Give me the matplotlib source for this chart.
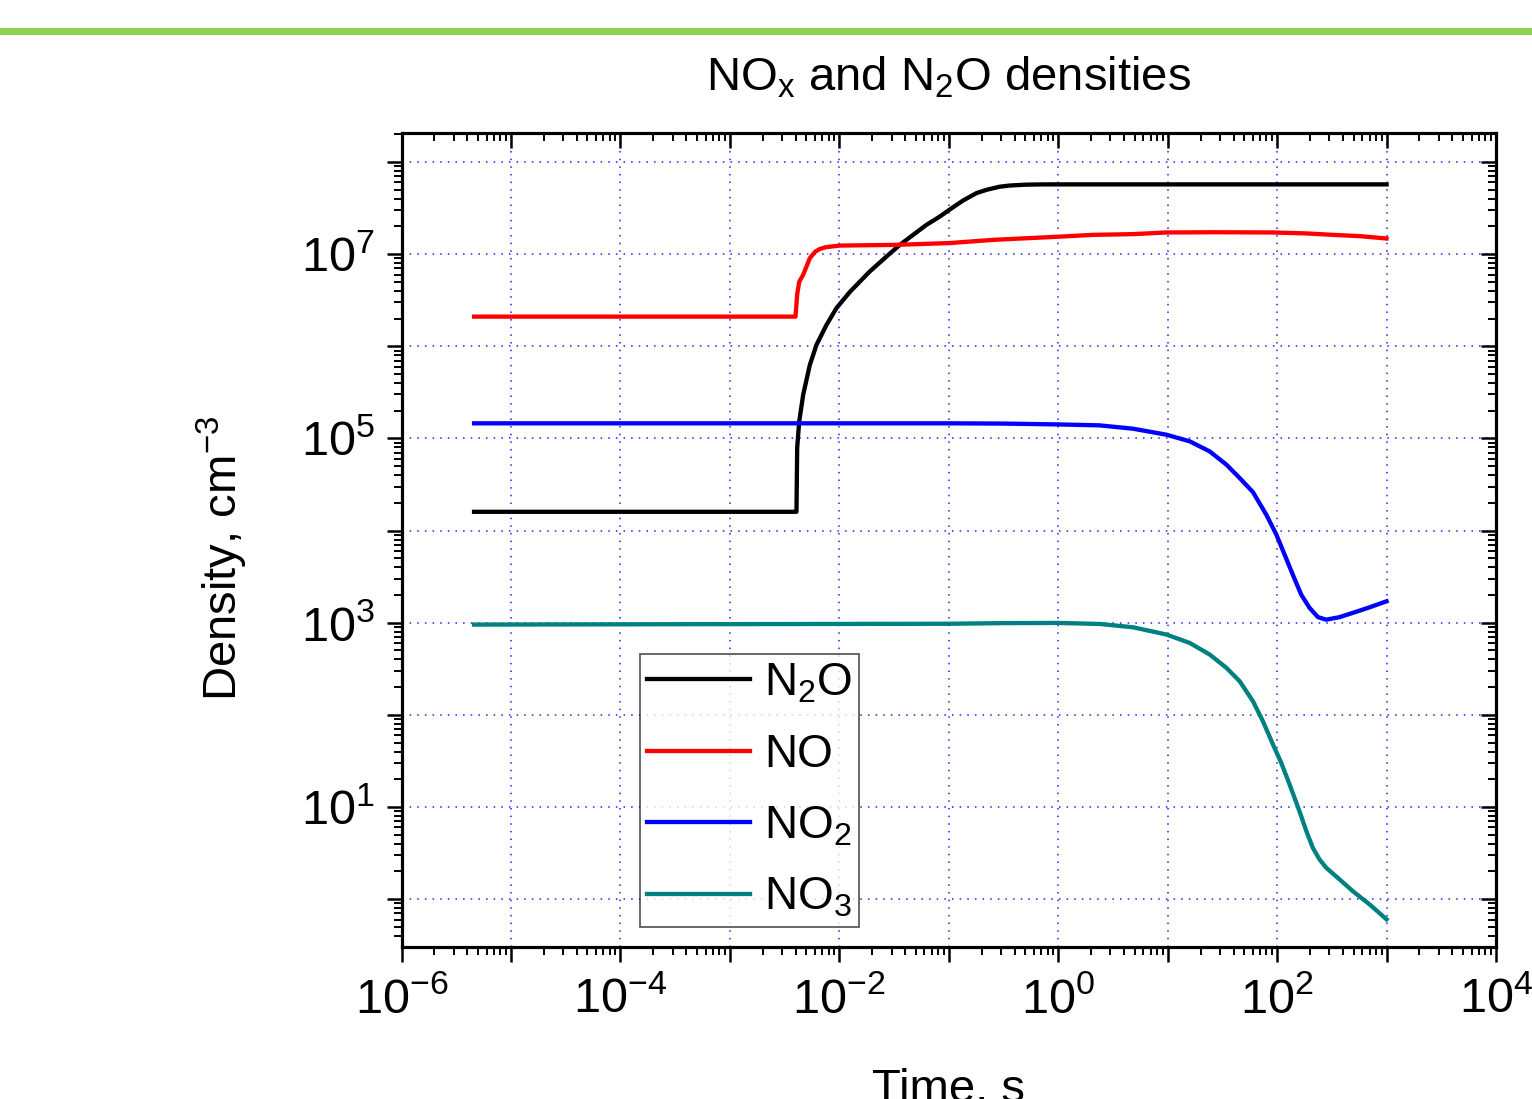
import numpy as np
import matplotlib
matplotlib.use("Agg")
import matplotlib.pyplot as plt
from matplotlib.ticker import LogLocator, FuncFormatter, NullFormatter
from matplotlib.patches import Rectangle

plt.rcParams['font.family'] = ['Liberation Sans', 'DejaVu Sans']
plt.rcParams['mathtext.fontset'] = 'custom'
plt.rcParams['mathtext.rm'] = 'Liberation Sans'
plt.rcParams['mathtext.it'] = 'Liberation Sans'
plt.rcParams['mathtext.default'] = 'regular'

# time (s) and densities (cm^-3) for each species
t_n2o = [4.6e-6, 4.06e-3, 4.12e-3, 4.30e-3, 4.68e-3, 5.38e-3, 6.19e-3, 7.64e-3,
         9.42e-3, 1.25e-2, 1.9e-2, 2.7e-2, 3.57e-2, 4.72e-2, 6.25e-2, 8.28e-2,
         0.102, 0.135, 0.179, 0.221, 0.292, 0.361, 0.51, 0.726, 1.03, 1000]
n_n2o = [1.6e4, 1.6e4, 7.9e4, 1.53e5, 3.0e5, 6.3e5, 1.04e6, 1.71e6,
         2.6e6, 3.9e6, 6.5e6, 9.44e6, 1.26e7, 1.62e7, 2.08e7, 2.56e7,
         3.05e7, 3.82e7, 4.6e7, 4.99e7, 5.4e7, 5.56e7, 5.68e7, 5.72e7, 5.72e7, 5.72e7]

t_no = [4.6e-6, 3.98e-3, 4.12e-3, 4.30e-3, 4.68e-3, 5.38e-3, 6.0e-3, 6.64e-3, 7.5e-3,
        1.01e-2, 3.1e-2, 0.102, 0.254, 1.03, 2.08, 4.82, 9.7, 27.9, 91.6, 185, 324, 566, 1000]
n_no = [2.1e6, 2.1e6, 3.66e6, 5.0e6, 6.0e6, 9.06e6, 1.06e7, 1.14e7, 1.19e7,
        1.24e7, 1.26e7, 1.32e7, 1.43e7, 1.55e7, 1.62e7, 1.65e7, 1.72e7, 1.73e7,
        1.72e7, 1.68e7, 1.62e7, 1.57e7, 1.48e7]

t_no2 = [4.6e-6, 0.1, 0.316, 1.0, 2.39, 4.82, 9.73, 15.9, 24.2, 34.4, 45.5, 60.1,
         79.6, 98.4, 117, 139, 166, 198, 236, 281, 372, 492, 700, 1000]
n_no2 = [1.46e5, 1.46e5, 1.45e5, 1.42e5, 1.387e5, 1.276e5, 1.099e5, 9.31e4, 7.24e4,
         5.2e4, 3.72e4, 2.62e4, 1.49e4, 9.06e3, 5.5e3, 3.33e3, 2.02e3, 1.45e3,
         1.15e3, 1.08e3, 1.15e3, 1.28e3, 1.47e3, 1.71e3]

t_no3 = [4.6e-6, 0.1, 0.3, 1.0, 2.39, 4.82, 9.73, 15.9, 24.2, 34.4, 45.5, 60.1, 74.1,
         91.6, 109, 130, 160, 185, 212, 244, 281, 372, 492, 700, 1000]
n_no3 = [955, 975, 990, 995, 970, 893, 745, 604, 452, 324, 232, 141, 85.5,
         47.8, 30.2, 17.6, 9.02, 5.48, 3.61, 2.70, 2.19, 1.64, 1.22, 0.877, 0.604]

species = ['N$_2$O', 'NO', 'NO$_2$', 'NO$_3$']
colors = ['black', '#ff0000', '#0000ff', '#008080']

fig = plt.figure(figsize=(15.32, 10.99), dpi=100)

# green bar across the top of the page
fig.patches.append(Rectangle((0, 0.9682), 1, 0.0065, transform=fig.transFigure,
                             color='#92d050', lw=0, zorder=0))

ax = fig.add_axes([0.2621, 0.1386, 0.7144, 0.7401])
xlim = (1e-6, 1e4)
ylim = (0.305, 2.05e8)

for t, n, lab, c in zip([t_n2o, t_no, t_no2, t_no3], [n_n2o, n_no, n_no2, n_no3], species, colors):
    ax.plot(t, n, color=c, lw=3.1, label=lab, zorder=3, solid_joinstyle='round')

ax.set_xscale('log')
ax.set_yscale('log')
ax.set_xlim(xlim)
ax.set_ylim(ylim)

def setup_log_axis(axis):
    axis.set_major_locator(LogLocator(base=10, numticks=30))
    axis.set_minor_locator(LogLocator(base=10, subs=np.arange(2, 10), numticks=100))
    axis.set_minor_formatter(NullFormatter())

setup_log_axis(ax.xaxis)
setup_log_axis(ax.yaxis)

def fmt_x(v, pos):
    e = int(round(np.log10(v)))
    return '$10^{%d}$' % e if e % 2 == 0 else ''

def fmt_y(v, pos):
    e = int(round(np.log10(v)))
    return '$10^{%d}$' % e if e % 2 == 1 else ''

ax.xaxis.set_major_formatter(FuncFormatter(fmt_x))
ax.yaxis.set_major_formatter(FuncFormatter(fmt_y))

ax.tick_params(which='major', direction='out', length=11, width=1.8, labelsize=35, pad=8)
ax.tick_params(which='minor', direction='out', length=5.5, width=1.4)
ax.tick_params(axis='x', which='major', pad=11)

for s in ax.spines.values():
    s.set_linewidth(2.2)

ax.grid(True, which='major', color='#2020ff', lw=1.1, linestyle=(0, (1, 4)), zorder=1)

# ticks on the top and right edges point inward
ax_top = ax.twiny()
ax_top.set_xscale('log')
ax_top.set_xlim(xlim)
setup_log_axis(ax_top.xaxis)
ax_top.xaxis.set_major_formatter(NullFormatter())
ax_top.tick_params(which='major', direction='in', length=11, width=1.8)
ax_top.tick_params(which='minor', direction='in', length=5.5, width=1.4)

ax_right = ax.twinx()
ax_right.set_yscale('log')
ax_right.set_ylim(ylim)
setup_log_axis(ax_right.yaxis)
ax_right.yaxis.set_major_formatter(NullFormatter())
ax_right.tick_params(which='major', direction='in', length=11, width=1.8)
ax_right.tick_params(which='minor', direction='in', length=5.5, width=1.4)
for a in (ax_top, ax_right):
    for s in a.spines.values():
        s.set_linewidth(2.2)

leg = ax.legend(loc='lower left', bbox_to_anchor=(0.2179, 0.0246), borderaxespad=0,
                fontsize=33, frameon=True, fancybox=False, handlelength=2.25,
                handletextpad=0.3, borderpad=0.15, labelspacing=0.6)
leg.get_frame().set_edgecolor('#333333')
leg.get_frame().set_linewidth(1.3)
for h in leg.get_lines():
    h.set_linewidth(3.1)

fig.text(0.6193, 0.9295, 'NO$_x$ and N$_2$O densities', ha='center', va='center', fontsize=34)
fig.text(0.6193, -0.003, 'Time, s', ha='center', va='baseline', fontsize=34)
fig.text(0.145, 0.492, 'Density, cm$^{-3}$', ha='center', va='center', rotation=90, fontsize=34)

fig.savefig('out.png', dpi=100)
